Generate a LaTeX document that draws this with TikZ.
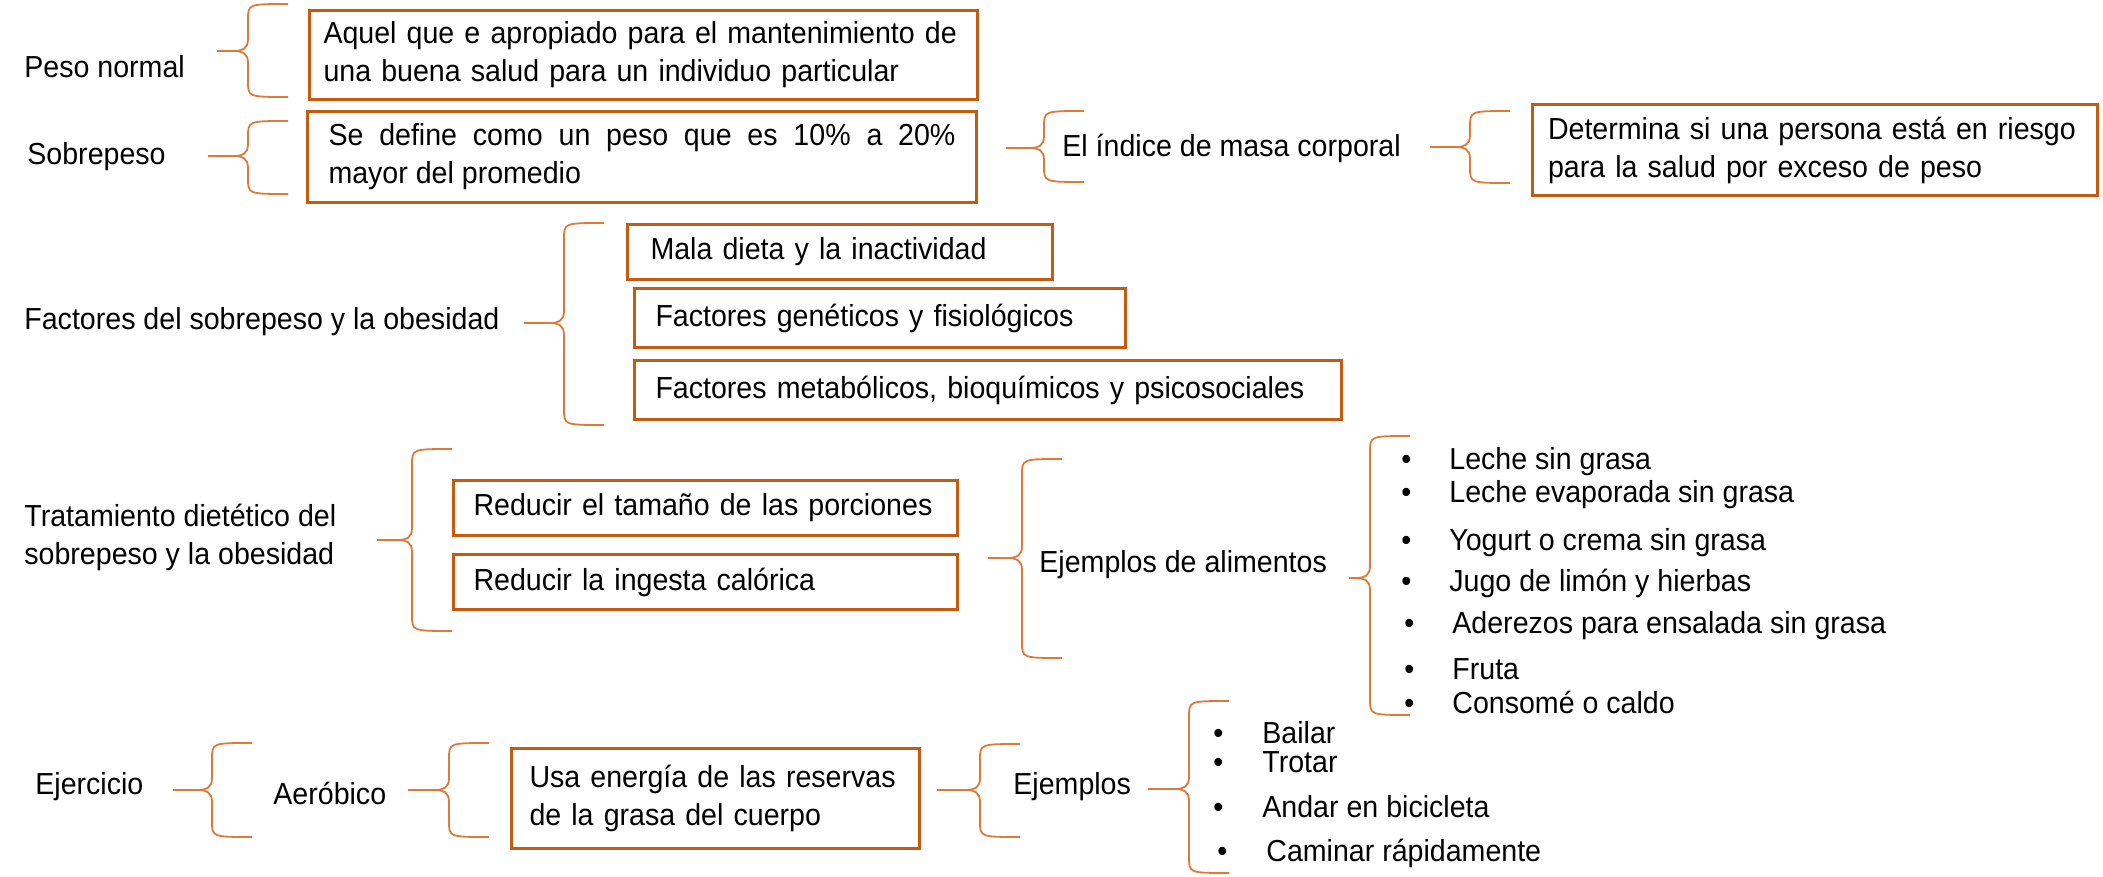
\documentclass[tikz,border=0pt]{standalone}
\usepackage{fontspec}
\setmainfont{Liberation Sans}[FakeStretch=0.94]
\usepackage{tikz}

\definecolor{boxorange}{HTML}{C55A11}
\definecolor{braceorange}{HTML}{DD7A3A}

\tikzset{
    box/.style={draw=boxorange, line width=1.5pt, anchor=north west, inner xsep=10.5pt, inner ysep=0pt, align=left},
    lbl/.style={anchor=west, inner sep=0pt, align=left},
    brace/.style={draw=braceorange, line width=0.9pt},
}

% curly bracket: tip x, tip y, vertical x, top y, bottom y
\newcommand{\curly}[5]{%
    \draw[brace] ({#3+40},#4) .. controls (#3,#4) .. (#3,{#4+16})
        -- (#3,{#2-12}) .. controls (#3,{#2-2}) and ({#3-6},#2) .. ({#3-14},#2) -- (#1,#2)
        -- ({#3-14},#2) .. controls ({#3-6},#2) and (#3,{#2+2}) .. (#3,{#2+12})
        -- (#3,{#5-16}) .. controls (#3,#5) .. ({#3+40},#5);
}

\begin{document}
\begin{tikzpicture}[x=0.5pt, y=-0.5pt, every node/.style={font=\fontsize{15.2}{19}\selectfont}]
        \useasboundingbox (0,0) rectangle (2103,877);

        % peso normal y sobrepeso
        \node[lbl] (pn) at (24,67) {Peso normal};
        \curly{217}{51}{248}{4}{97}
        \node[box, text width=320pt, minimum height=44.5pt, inner xsep=7pt] (pnbox) at (308,9) {\mbox{Aquel que e apropiado para el mantenimiento de}\\\mbox{una buena salud para un individuo particular}};

        \node[lbl] (sp) at (27,157) {Sobrepeso};
        \curly{208}{156}{248}{121}{194}
        \node[box, text width=313.5pt, minimum height=45.5pt, align=justify] (spbox) at (306,110) {Se define como un peso que es 10\% a 20\%\linebreak mayor del promedio};

        \curly{1006}{148}{1044}{111}{182}
        \node[lbl] (imc) at (1062,148) {El índice de masa corporal};
        \curly{1430}{147}{1470}{111}{183}
        \node[box, text width=267pt, minimum height=45.5pt, inner xsep=7.75pt] (imcbox) at (1531,103) {\mbox{Determina si una persona está en riesgo}\\\mbox{para la salud por exceso de peso}};

        % factores
        \node[lbl] (fac) at (24,322) {Factores del sobrepeso y la obesidad};
        \curly{524}{323}{564}{223}{425}
        \node[box, text width=189.5pt, minimum height=27.5pt, inner xsep=11.5pt] (fac1) at (626,223) {Mala dieta y la inactividad};
        \node[box, text width=224.5pt, minimum height=29.5pt] (fac2) at (633,287) {Factores genéticos y fisiológicos};
        \node[box, text width=332.5pt, minimum height=29.5pt] (fac3) at (633,359) {Factores metabólicos, bioquímicos y psicosociales};

        % tratamiento dietetico
        \node[lbl] (trat) at (24,537) {Tratamiento dietético del\\sobrepeso y la obesidad};
        \curly{377}{540}{412}{449}{631}
        \node[box, text width=232pt, minimum height=27.5pt, inner xsep=10pt] (red1) at (452,479) {Reducir el tamaño de las porciones};
        \node[box, text width=232pt, minimum height=27.5pt, inner xsep=10pt] (red2) at (452,553) {Reducir la ingesta calórica};
        \curly{988}{558}{1022}{459}{658}
        \node[lbl] (ejal) at (1039,565) {Ejemplos de alimentos};
        \curly{1349}{578}{1370}{436}{715}
        \node[lbl] (al1) at (1401,462) {\makebox[24pt][l]{•}Leche sin grasa};
        \node[lbl] (al2) at (1401,495) {\makebox[24pt][l]{•}Leche evaporada sin grasa};
        \node[lbl] (al3) at (1401,543) {\makebox[24pt][l]{•}Yogurt o crema sin grasa};
        \node[lbl] (al4) at (1401,583) {\makebox[24pt][l]{•}Jugo de limón y hierbas};
        \node[lbl] (al5) at (1404,626) {\makebox[24pt][l]{•}Aderezos para ensalada sin grasa};
        \node[lbl] (al6) at (1404,669) {\makebox[24pt][l]{•}Fruta};
        \node[lbl] (al7) at (1404,702) {\makebox[24pt][l]{•}Consomé o caldo};

        % ejercicio
        \node[lbl] (ejer) at (35,787) {Ejercicio};
        \curly{173}{790}{212}{743}{837}
        \node[lbl] (aer) at (273,793) {Aeróbico};
        \curly{408}{790}{449}{743}{837}
        \node[box, text width=186pt, minimum height=50pt, inner xsep=9pt] (usa) at (510,747) {Usa energía de las reservas\\de la grasa del cuerpo};
        \curly{937}{790}{980}{744}{837}
        \node[lbl] (ejem) at (1013,787) {Ejemplos};
        \curly{1148}{789}{1189}{701}{873}
        \node[lbl] (ex1) at (1213,733) {\makebox[24.5pt][l]{•}Bailar};
        \node[lbl] (ex2) at (1213,762) {\makebox[24.5pt][l]{•}Trotar};
        \node[lbl] (ex3) at (1213,807) {\makebox[24.5pt][l]{•}Andar en bicicleta};
        \node[lbl] (ex4) at (1217,853) {\makebox[24.5pt][l]{•}Caminar rápidamente};
    \end{tikzpicture}
\end{document}
